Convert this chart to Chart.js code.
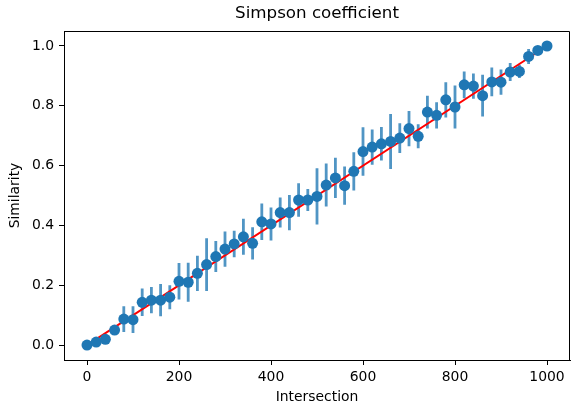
<!DOCTYPE html>
<html><head><meta charset="utf-8">
<script src="https://cdn.jsdelivr.net/npm/chart.js@4/dist/chart.umd.min.js"></script>
<style>html,body{margin:0;padding:0;background:#fff;}</style>
</head><body>
<canvas id="c" width="571" height="405"></canvas>
<script>
const xValues = [0,20,40,60,80,100,120,140,160,180,200,220,240,260,280,300,320,340,360,380,400,420,440,460,480,500,520,540,560,580,600,620,640,660,680,700,720,740,760,780,800,820,840,860,880,900,920,940,960,980,1000];
const yValues = [0.000,0.010,0.019,0.050,0.087,0.085,0.143,0.150,0.150,0.160,0.213,0.210,0.240,0.269,0.296,0.321,0.338,0.362,0.340,0.412,0.405,0.443,0.443,0.485,0.485,0.497,0.535,0.559,0.533,0.581,0.647,0.662,0.673,0.681,0.692,0.724,0.698,0.779,0.768,0.820,0.796,0.870,0.866,0.834,0.880,0.879,0.913,0.915,0.965,0.985,1.000];
const yErrors = [0.000,0.008,0.012,0.015,0.043,0.045,0.046,0.044,0.054,0.040,0.061,0.065,0.059,0.088,0.052,0.059,0.044,0.060,0.054,0.061,0.055,0.050,0.059,0.056,0.037,0.094,0.072,0.067,0.064,0.064,0.081,0.059,0.056,0.092,0.050,0.059,0.040,0.055,0.044,0.059,0.072,0.045,0.042,0.070,0.048,0.042,0.030,0.022,0.025,0.010,0.000];
const refLineX = [0, 1000];
const refLineY = [0, 1];
const xTicks = [0, 200, 400, 600, 800, 1000];
const xTickLabels = ['0', '200', '400', '600', '800', '1000'];
const yTicks = [0, 0.2, 0.4, 0.6, 0.8, 1.0];
const yTickLabels = ['0.0', '0.2', '0.4', '0.6', '0.8', '1.0'];

const FONT = 'DejaVu Sans';
const errData = [];
xValues.forEach((x, i) => {
  errData.push({x: x, y: yValues[i] - yErrors[i]});
  errData.push({x: x, y: yValues[i] + yErrors[i]});
  errData.push({x: x, y: null});
});
const pointData = xValues.map((x, i) => ({x: x, y: yValues[i]}));
const refData = refLineX.map((x, i) => ({x: x, y: refLineY[i]}));

const framePlugin = {
  id: 'frame',
  afterDraw(chart) {
    const {ctx, chartArea: a} = chart;
    ctx.save();
    ctx.strokeStyle = '#000';
    ctx.lineWidth = 1;
    ctx.beginPath();
    ctx.moveTo(Math.round(a.left) + 0.5, Math.round(a.top) + 0.5);
    ctx.lineTo(Math.round(a.right) - 0.5, Math.round(a.top) + 0.5);
    ctx.lineTo(Math.round(a.right) - 0.5, Math.round(a.bottom) + 0.5);
    ctx.stroke();
    ctx.restore();
  }
};

new Chart(document.getElementById('c'), {
  type: 'scatter',
  data: {
    datasets: [
      {type: 'line', data: errData, borderColor: 'rgba(31,119,180,0.78)', borderWidth: 2.8,
       pointRadius: 0, spanGaps: false, borderCapStyle: 'butt', order: 3},
      {type: 'line', data: refData, borderColor: '#ff0000', borderWidth: 2,
       pointRadius: 0, order: 2},
      {type: 'scatter', data: pointData, backgroundColor: '#1f77b4', borderWidth: 0,
       pointRadius: 5.5, order: 1}
    ]
  },
  options: {
    responsive: false,
    animation: false,
    devicePixelRatio: 1,
    layout: {autoPadding: false, padding: {top: 0, right: 1, left: 0, bottom: 0}},
    plugins: {
      legend: {display: false},
      tooltip: {enabled: false},
      title: {display: true, text: 'Simpson coefficient', color: '#000', fullSize: false,
        font: {family: FONT, size: 16.7, weight: 'normal'}, padding: {top: 3.5, bottom: 7.5}}
    },
    scales: {
      x: {
        type: 'linear', position: 'bottom', min: -50, max: 1050,
        afterBuildTicks: (axis) => { axis.ticks = xTicks.map(v => ({value: v})); },
        afterFit: (s) => { s.height = 45; s.paddingLeft = 0; s.paddingRight = 0; },
        ticks: {callback: (v) => xTickLabels[xTicks.indexOf(v)], color: '#000',
          font: {family: FONT, size: 13.9}, padding: 4, maxRotation: 0, autoSkip: false},
        grid: {drawOnChartArea: false, drawTicks: true, tickLength: 5, color: '#000', lineWidth: 1},
        border: {display: true, color: '#000', width: 1},
        title: {display: true, text: 'Intersection', color: '#000',
          font: {family: FONT, size: 13.9, lineHeight: 1.05}, padding: {top: 0, bottom: 0}}
      },
      y: {
        type: 'linear', position: 'left', min: -0.05, max: 1.05,
        afterBuildTicks: (axis) => { axis.ticks = yTicks.map(v => ({value: v})); },
        afterFit: (s) => { s.width = 64; s.paddingTop = 0; s.paddingBottom = 0; },
        ticks: {callback: (v) => yTickLabels[yTicks.indexOf(v)], color: '#000',
          font: {family: FONT, size: 13.9}, padding: 5, autoSkip: false},
        grid: {drawOnChartArea: false, drawTicks: true, tickLength: 5, color: '#000', lineWidth: 1},
        border: {display: true, color: '#000', width: 1},
        title: {display: true, text: 'Similarity', color: '#000',
          font: {family: FONT, size: 13.9}, padding: {top: 7, bottom: 0}}
      }
    }
  },
  plugins: [framePlugin]
});
</script>
</body></html>
